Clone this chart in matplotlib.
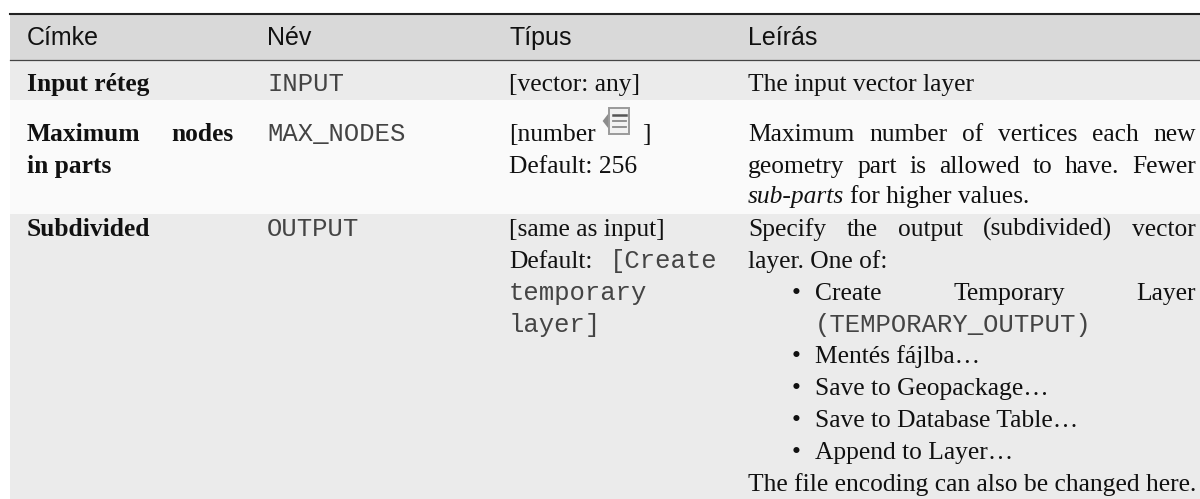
import matplotlib
matplotlib.use("Agg")
import matplotlib.pyplot as plt
from matplotlib.patches import Polygon, Rectangle

headers = ["Címke", "Név", "Típus", "Leírás"]
labels = [["Input réteg"], ["Maximum nodes", "in parts"], ["Subdivided"]]
names = ["INPUT", "MAX_NODES", "OUTPUT"]
type_row1 = "[vector: any]"
type_row2 = ["[number", "]", "Default: 256"]
type_row3 = ["[same as input]", "Default:", "[Create", "temporary", "layer]"]
desc_row1 = "The input vector layer"
desc_row2 = ["Maximum number of vertices each new", "geometry part is allowed to have. Fewer", "sub-parts", "for higher values."]
desc_row3 = ["Specify the output (subdivided) vector", "layer. One of:"]
bullets = ["Create Temporary Layer", "Mentés fájlba…", "Save to Geopackage…", "Save to Database Table…", "Append to Layer…"]
temp_output = "(TEMPORARY_OUTPUT)"
desc_last = "The file encoding can also be changed here."

SERIF = "Liberation Serif"
MONO = "Liberation Mono"
SANS = "Liberation Sans"
SIZE = 18.35

fig = plt.figure(figsize=(12, 4.99), dpi=100)
ax = fig.add_axes([0, 0, 1, 1])
ax.set_xlim(0, 1200)
ax.set_ylim(499, 0)
ax.axis("off")
renderer = fig.canvas.get_renderer()


def put(x, y, s, family=SERIF, weight="normal", style="normal", size=SIZE, color="#111111"):
    return ax.text(x, y, s, family=family, weight=weight, style=style, fontsize=size,
                   va="baseline", ha="left", color=color)


def code(x, y, s):
    return put(x, y, s, family=MONO, size=SIZE + 0.1, color="#444444")


def justify(x0, x1, y, line, **kw):
    # spread the words so the line fills the cell width
    words = line.split()
    items = [put(x0, y, w, **kw) for w in words]
    widths = [t.get_window_extent(renderer).width for t in items]
    gap = (x1 - x0 - sum(widths)) / (len(words) - 1)
    x = x0
    for t, w in zip(items, widths):
        t.set_x(x)
        x += w + gap


# row bands
for top, bottom, col in [(14, 60, "#d9d9d9"), (60, 100, "#ebebeb"), (100, 214, "#fafafa"), (214, 499, "#ebebeb")]:
    ax.add_patch(Rectangle((10, top), 1190, bottom - top, color=col, lw=0))
ax.plot([10, 1200], [14, 14], color="#222222", lw=1.5)
ax.plot([10, 1200], [60, 60], color="#444444", lw=0.9)

cols = [27, 267, 509, 748]
right = 1196

for x, h in zip(cols, headers):
    put(x, 45, h, family=SANS, size=18)

# first column
put(cols[0], 91, labels[0][0], weight="bold")
justify(cols[0], 234, 141, labels[1][0], weight="bold")
put(cols[0], 173, labels[1][1], weight="bold")
put(cols[0], 236, labels[2][0], weight="bold")

# second column
for y, n in zip([91, 141, 236], names):
    code(cols[1], y, n)

# third column
put(cols[2], 91, type_row1)
t = put(cols[2], 141, type_row2[0])
x = t.get_window_extent(renderer).x1
# layer icon
ax.add_patch(Polygon([(x + 7, 121), (x + 14, 112), (x + 14, 130)], color="#8c8c8c", lw=0))
ax.add_patch(Rectangle((x + 13, 108), 20, 26, fc="#f2f2f2", ec="#9a9a9a", lw=1.4))
ax.plot([x + 17, x + 30], [115, 115], color="#555555", lw=1.8)
ax.plot([x + 17, x + 30], [121, 121], color="#888888", lw=1.3)
ax.plot([x + 17, x + 30], [127, 127], color="#888888", lw=1.3)
put(x + 46, 141, type_row2[1])
put(cols[2], 173, type_row2[2])
put(cols[2], 236, type_row3[0])
put(cols[2], 268, type_row3[1])
code(610, 268, type_row3[2])
code(cols[2], 300, type_row3[3])
code(cols[2], 332, type_row3[4])

# description column
put(cols[3], 91, desc_row1)
justify(cols[3], right, 141, desc_row2[0])
justify(cols[3], right, 173, desc_row2[1])
t = put(cols[3], 203, desc_row2[2], style="italic")
put(t.get_window_extent(renderer).x1 + 6, 203, desc_row2[3])
justify(cols[3], right, 236, desc_row3[0])
put(cols[3], 268, desc_row3[1])

bullet_x = 792
text_x = 815
justify(text_x, right, 300, bullets[0])
code(text_x, 332, temp_output)
for y, b in zip([363, 395, 427, 459], bullets[1:]):
    put(text_x, y, b)
for y in [300, 363, 395, 427, 459]:
    put(bullet_x, y, "•")
put(cols[3], 491, desc_last)

fig.savefig("out.png", dpi=100)
